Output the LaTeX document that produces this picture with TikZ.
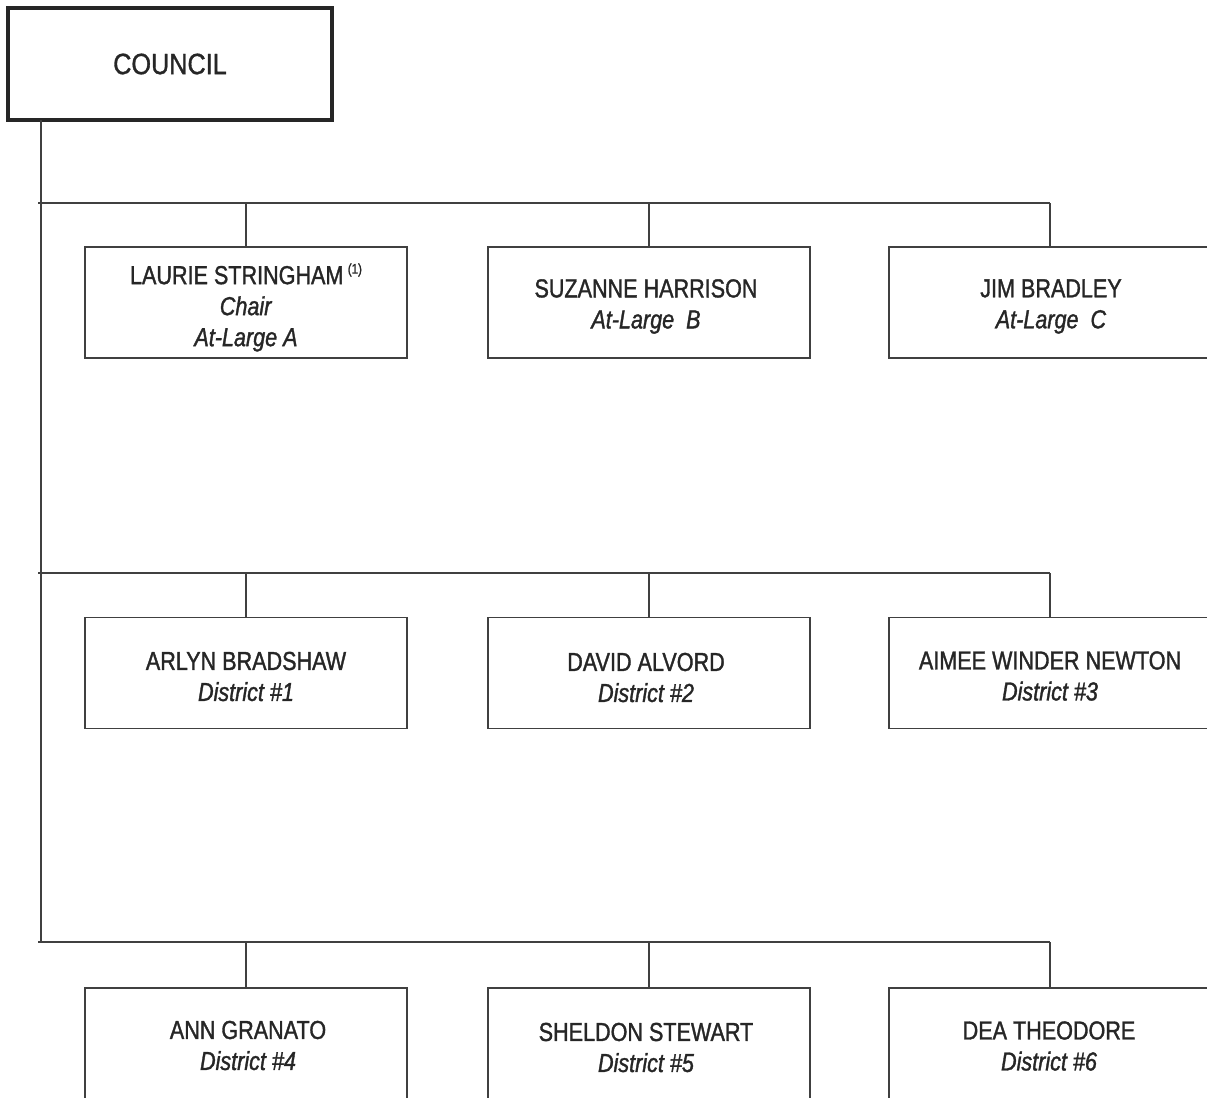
\documentclass[tikz,border=0pt]{standalone}
\usepackage{fontspec}
\setmainfont{Liberation Sans}
\newfontfamily\narrowfont{Liberation Sans}[FakeStretch=0.83, FakeBold=1.3]
\newfontfamily\headfont{Liberation Sans}[FakeStretch=0.86, FakeBold=1.1]
\begin{document}
\begin{tikzpicture}[x=0.75pt,y=-0.75pt,
  member/.style={draw=black!75, line width=1.3pt, rectangle, minimum width=241.5pt, minimum height=83.25pt, inner sep=0pt},
  lastrow/.style={member, minimum height=95pt},
  label text/.style={align=center, inner sep=0pt, text=black!85, font=\narrowfont\fontsize{19.5}{23.25}\selectfont},
  head/.style={draw=black!85, line width=2.3pt, rectangle, minimum width=243pt, minimum height=84pt,
     inner sep=0pt, text=black!85, font=\headfont\fontsize{22}{23}\selectfont},
  link/.style={draw=black!75, line width=1.3pt}]
\useasboundingbox (0,0) rectangle (1207,1097);
\clip (0,0) rectangle (1207,1097);
\node[head] (council) at (170,64) {COUNCIL};
% boxes
\node[member] (m1) at (246,302.5) {};
\node[member] (m2) at (649,302.5) {};
\node[member] (m3) at (1050,302.5) {};
\node[member] (m4) at (246,673) {};
\node[member] (m5) at (649,673) {};
\node[member] (m6) at (1050,673) {};
\node[lastrow,anchor=north] (m7) at (246,987) {};
\node[lastrow,anchor=north] (m8) at (649,987) {};
\node[lastrow,anchor=north] (m9) at (1050,987) {};
% texts
\node[label text] (t1) at (246,307.5) {LAURIE STRINGHAM\,{\fontsize{10.5}{10}\selectfont\raisebox{0.75em}{(1)}}\\\textit{Chair}\\\textit{At-Large A}};
\node[label text] (t2) at (646,306.5) {SUZANNE HARRISON\\\textit{At-Large\ \ B}};
\node[label text] (t3) at (1051,306.5) {JIM BRADLEY\\\textit{At-Large\ \ C}};
\node[label text] (t4) at (246,676.5) {ARLYN BRADSHAW\\\textit{District \#1}};
\node[label text] (t5) at (646,677.5) {DAVID ALVORD\\\textit{District \#2}};
\node[label text] (t6) at (1050,676) {AIMEE WINDER NEWTON\\\textit{District \#3}};
\node[label text] (t7) at (248,1045.5) {ANN GRANATO\\\textit{District \#4}};
\node[label text] (t8) at (646,1047.5) {SHELDON STEWART\\\textit{District \#5}};
\node[label text] (t9) at (1049,1046) {DEA THEODORE\\\textit{District \#6}};
% trunk and bars
\coordinate (top) at (41,120);
\coordinate (b1) at (38,203);
\coordinate (b2) at (38,573);
\coordinate (b3) at (38,942);
\draw[link] (top) -- (top |- b3);
\draw[link] (b1) -- (b1 -| m3.north);
\draw[link] (b2) -- (b2 -| m6.north);
\draw[link] (b3) -- (b3 -| m9.north);
\foreach \m/\b in {m1/b1,m2/b1,m3/b1,m4/b2,m5/b2,m6/b2,m7/b3,m8/b3,m9/b3}
  \draw[link] (\b -| \m.north) -- (\m.north);
\end{tikzpicture}
\end{document}
